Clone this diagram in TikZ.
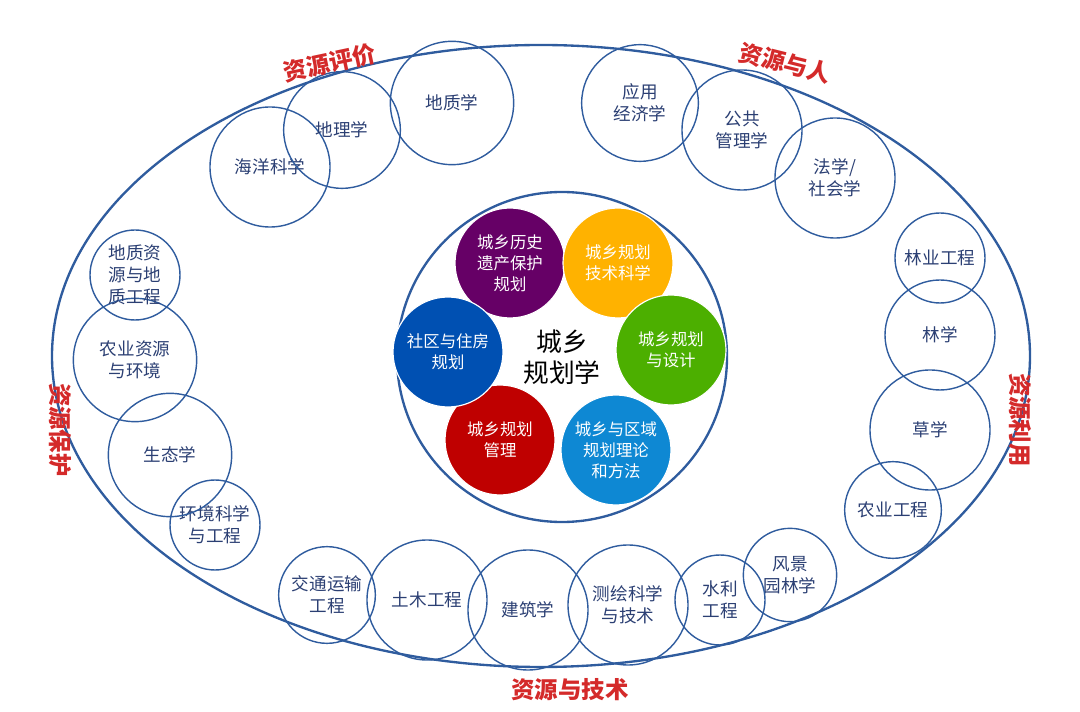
\documentclass[tikz,border=0pt]{standalone}
\usepackage{fontspec}
\setmainfont{Noto Sans CJK SC}
\definecolor{ringblue}{HTML}{2F5C9E}
\definecolor{textblue}{HTML}{2B3F73}
\definecolor{labelred}{HTML}{D42A2A}
\tikzset{
	outerstyle/.style={circle,draw=ringblue,line width=1.2pt,text=textblue,align=center,inner sep=0pt,font=\fontsize{15}{19}\selectfont},
	innerstyle/.style={circle,draw=white,line width=1pt,text=white,align=center,inner sep=0pt,minimum size=3.3cm,font=\fontsize{14}{18}\selectfont},
	labelstyle/.style={text=labelred,inner sep=1pt,font=\fontsize{20}{24}\selectfont\bfseries}
}
\begin{document}
\begin{tikzpicture}[x=0.03cm,y=-0.03cm]
		\useasboundingbox (0,0) rectangle (1080,712);
		\draw[ringblue,line width=2pt] (541,356) ellipse (489 and 311);
		\node[circle,draw=ringblue,line width=2pt,minimum size=9.9cm] (core) at (562,357) {};
		% inner fields
		\node[innerstyle,fill=violet!80!black] (hist) at (510,263) {城乡历史\\遗产保护\\规划};
		\node[innerstyle,fill=orange!60!yellow] (tech) at (618,263) {城乡规划\\技术科学};
		\node[innerstyle,fill=green!55!black!70!yellow] (desn) at (671,350) {城乡规划\\与设计};
		\node[innerstyle,fill=cyan!70!blue] (theo) at (616,450) {城乡与区域\\规划理论\\和方法};
		\node[innerstyle,fill=red!75!black] (mgmt) at (500,440) {城乡规划\\管理};
		\node[innerstyle,fill=blue!55!cyan!70!black] (comm) at (448,352) {社区与住房\\规划};
		\node[text=black,align=center,font=\fontsize{22}{27}\selectfont] (urban) at (562,357) {城乡\\规划学};
		% outer disciplines
		\node[outerstyle,minimum size=3.6cm] (ocean) at (270,167) {海洋科学};
		\node[outerstyle,minimum size=3.5cm] (geog) at (342,130) {地理学};
		\node[outerstyle,minimum size=3.7cm] (geol) at (452,103) {地质学};
		\node[outerstyle,minimum size=3.5cm] (econ) at (640,103) {应用\\经济学};
		\node[outerstyle,minimum size=3.6cm] (pubm) at (742,130) {公共\\管理学};
		\node[outerstyle,minimum size=3.6cm] (law) at (835,178) {法学/\\社会学};
		\node[outerstyle,minimum size=2.7cm] (fore) at (940,258) {林业工程};
		\node[outerstyle,minimum size=3.3cm] (fors) at (940,335) {林学};
		\node[outerstyle,minimum size=3.6cm] (gras) at (930,430) {草学};
		\node[outerstyle,minimum size=2.9cm] (agen) at (893,510) {农业工程};
		\node[outerstyle,minimum size=2.8cm] (land) at (790,575) {风景\\园林学};
		\node[outerstyle,minimum size=2.7cm] (hydr) at (720,600) {水利\\工程};
		\node[outerstyle,minimum size=3.6cm] (surv) at (628,605) {测绘科学\\与技术};
		\node[outerstyle,minimum size=3.6cm] (arch) at (528,610) {建筑学};
		\node[outerstyle,minimum size=3.6cm] (civl) at (427,600) {土木工程};
		\node[outerstyle,minimum size=2.9cm] (trans) at (327,595) {交通运输\\工程};
		\node[outerstyle,minimum size=2.7cm] (envi) at (215,525) {环境科学\\与工程};
		\node[outerstyle,minimum size=3.7cm] (ecol) at (170,455) {生态学};
		\node[outerstyle,minimum size=3.7cm] (agri) at (135,360) {农业资源\\与环境};
		\node[outerstyle,minimum size=2.7cm] (geor) at (135,275) {地质资\\源与地\\质工程};
		% group labels
		\node[labelstyle,rotate=12] (eval) at (330,63) {资源评价};
		\node[labelstyle,rotate=-14] (human) at (785,63) {资源与人};
		\node[labelstyle,rotate=-90] (prot) at (60,430) {资源保护};
		\node[labelstyle,rotate=-90] (use) at (1020,420) {资源利用};
		\node[labelstyle] (techn) at (570,690) {资源与技术};
		\end{tikzpicture}
\end{document}
